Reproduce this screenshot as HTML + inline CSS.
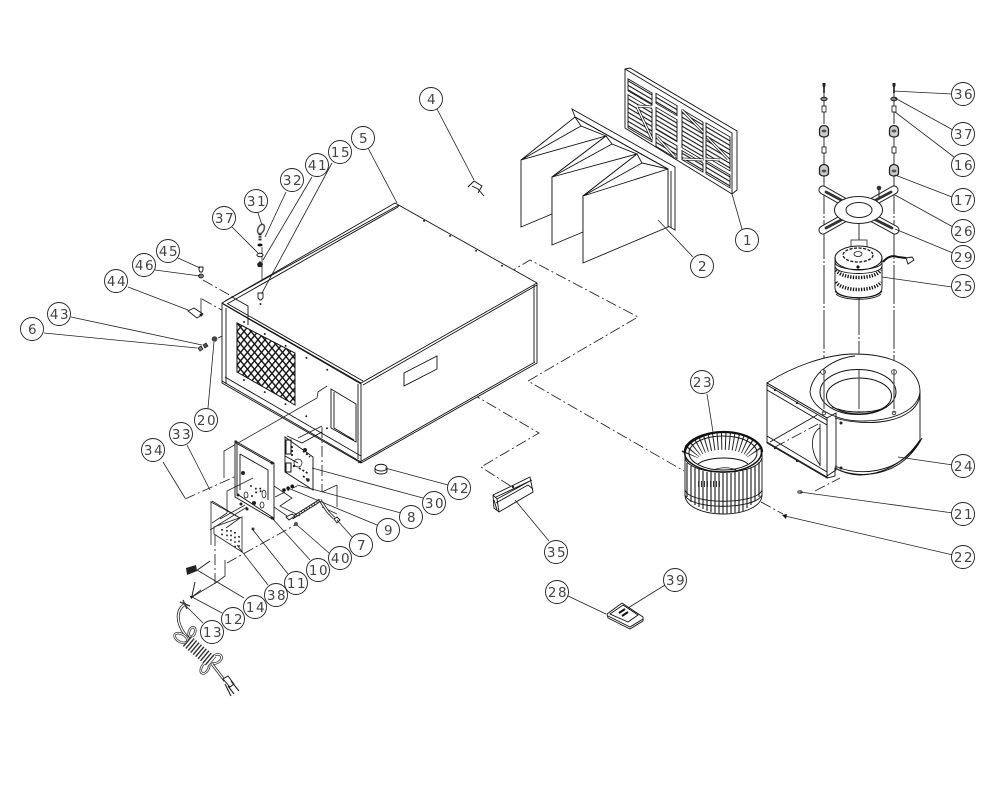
<!DOCTYPE html>
<html><head><meta charset="utf-8"><style>
html,body{margin:0;padding:0;background:#fff;width:1000px;height:789px;overflow:hidden}
svg{display:block}
text{font-family:"DejaVu Sans","Liberation Sans",sans-serif;font-size:13.5px;fill:#444;text-anchor:middle;letter-spacing:1.5px}
.c circle{fill:#fff;stroke:#222;stroke-width:.9}
.l{stroke:#222;stroke-width:.8;fill:none}
.d{stroke:#222;stroke-width:.85;fill:none;stroke-dasharray:11 3 2 3}
.v{stroke:#555;stroke-width:1.2;fill:none;stroke-dasharray:39 2 2 2}
.p{stroke:#111;stroke-width:.9;fill:#fff}
.n{stroke:#111;stroke-width:.9;fill:none}
.h{fill:#222;stroke:none}
</style></head><body>
<svg width="1000" height="789" viewBox="0 0 1000 789" xmlns="http://www.w3.org/2000/svg">
<defs>
<pattern id="mesh" width="7" height="8.4" patternUnits="userSpaceOnUse" patternTransform="translate(237 323)">
<rect width="7" height="8.4" fill="#fff"/>
<path d="M0 0L7 8.4M7 0L0 8.4" stroke="#111" stroke-width="1.35"/>
</pattern>
<pattern id="sl" width="20" height="4.5" patternUnits="userSpaceOnUse">
<rect width="20" height="4.5" fill="#fff"/><path d="M0 1H20" stroke="#111" stroke-width="1.2"/>
</pattern>
<g id="st">
<path d="M822.5 83h3v3l-.7 1v6h-1.600v-6l-.7-1z" fill="#222"/>
<ellipse cx="824" cy="99" rx="3.200" ry="1.800" fill="#888" stroke="#111" stroke-width=".8"/>
<rect x="822" y="106" width="4" height="6" fill="#fff" stroke="#111" stroke-width=".8"/>
<path d="M819.5 130c0-6 9-6 9 0v4c0 4-9 4-9 0z" fill="#ccc" stroke="#222" stroke-width="1.300"/><ellipse cx="824" cy="131" rx="2.400" ry="1.500" fill="#555"/>
<rect x="822" y="147" width="4" height="6" fill="#fff" stroke="#111" stroke-width=".8"/>
<path d="M819.5 169c0-6 9-6 9 0v4c0 4-9 4-9 0z" fill="#ccc" stroke="#222" stroke-width="1.300"/><ellipse cx="824" cy="171" rx="2.400" ry="1.500" fill="#555"/>
</g>
</defs>

<path class="d" d="M421 364L539 433L481 467L512 487"/>
<path class="d" d="M490 284L530 260L638 317L528 381L684 471"/>
<path class="d" d="M761 502L783 514"/>
<path class="v" d="M824 85V370M894 85V370M859 210V245M859 296V370"/>
<path class="d" d="M815 491L840 478"/>
<path class="d" d="M203 280L233 297M202 299L243 322M218 338L240 327"/>
<path class="l" d="M201 298V313"/>
<path class="l" d="M262 247V298"/>

<!-- cabinet -->
<path class="p" d="M222 303L395 203L537 283V363L361 463L222 383Z"/>
<path class="n" d="M222 303L361 383L537 283M361 383V463"/>
<path class="n" d="M225 301L397 206M227 304L398 207"/>
<path class="n" stroke-width="1.2" d="M223 304L361 384M228 304L363 381M363 385L537 285"/>
<path class="n" d="M226 308V384M225 377L361 456M358 384V459"/>
<path class="n" stroke-width="1.3" d="M222 381L361 462"/>
<path class="n" d="M534 285V362M358 463L535 362"/>
<path d="M237 323L295 353V405L237 372Z" fill="url(#mesh)" stroke="#111"/>
<path class="n" d="M404 373L437 356V369L404 386Z"/>
<path class="n" d="M331 389L356 404V442L331 428ZM334 392V428L354 440"/>
<path class="l" d="M224 478V451L317 398L318 392L327 386"/>
<path class="n" d="M232 297L248 306V325"/>
<path fill="none" stroke="#222" stroke-width="2" stroke-linecap="round" stroke-dasharray="0 30" d="M398 206L520 276"/>
<path fill="none" stroke="#222" stroke-width="2" stroke-linecap="round" stroke-dasharray="0 24" d="M244 322L345 380M244 380L330 430"/>

<!-- filter 1 -->
<path class="p" d="M625 69L630 68L737 131V190L732 194L625 128Z"/>
<path class="n" d="M625 69L732 133V194"/>
<g transform="matrix(1 .59 0 1 625 69)" fill="url(#sl)" stroke="#111" stroke-width=".9">
<rect x="3" y="8" width="24" height="12"/><rect x="3" y="24" width="24" height="33"/>
<rect x="31" y="6" width="21" height="10"/><rect x="31" y="20" width="21" height="22"/><rect x="31" y="46" width="21" height="13"/>
<rect x="57" y="7" width="21" height="38"/><rect x="57" y="48" width="21" height="9"/>
<rect x="81" y="6" width="24" height="34"/><rect x="81" y="44" width="24" height="13"/>
</g>
<path stroke="#111" stroke-width="2.8" fill="none" d="M637 107L652 139M657 137L675 157M682 110L703 132M707 137L728 159M683 159L703 160M705 159L720 160M637 106L652 107"/>
<path stroke="#fff" stroke-width="1.4" fill="none" d="M637 107L652 139M657 137L675 157M682 110L703 132M707 137L728 159M683 159L703 160M705 159L720 160M637 106L652 107"/>

<!-- filter 2 -->
<path class="p" d="M572 109L675 167V230L668 226V169L575 117Z"/>
<path class="n" d="M575 117L668 169M671 171V228"/>
<path class="p" d="M521 160L575 117L581 126L606 136Z"/>
<path class="p" d="M521 160L606 136L552 177V214L521 227Z"/>
<path class="n" d="M521 160L581 126"/>
<path class="p" d="M552 177L606 136L612 144L637 154L583 196V232L552 245Z"/>
<path class="n" d="M552 177L612 144M552 177L637 154"/>
<path class="p" d="M583 196L637 154L642 163L668 169V227L583 263Z"/>
<path class="n" d="M583 196L642 163M583 196L668 169"/>

<!-- clip 4 -->
<path class="n" stroke-width="1.3" d="M468 187L474 181L482 186L478 193M472 186L478 189L484 196"/>

<!-- hardware 31 32 37 41 15 -->
<ellipse cx="261" cy="229" rx="3" ry="5" fill="#fff" stroke="#555" stroke-width="1.6" transform="rotate(25 261 229)"/>
<path stroke="#111" stroke-width="3" stroke-dasharray="1 .7" d="M260 234V241"/>
<ellipse cx="260" cy="245" rx="2.600" ry="1.500" fill="#111"/>
<ellipse cx="260" cy="255" rx="3" ry="1.700" fill="#fff" stroke="#111" stroke-width="1"/>
<path d="M257 264L260 261L263 264L262 267H258Z" fill="#222"/>
<path class="p" d="M258 293h5v5l-2 2h-1l-2-2z"/><circle class="h" cx="260.5" cy="304" r="1"/>
<!-- 45 46 44 -->
<path class="p" d="M199 267h4v3l-1 2h-2l-1-2z"/><ellipse cx="201" cy="276" rx="2.500" ry="2" fill="#777" stroke="#111" stroke-width=".7"/>
<path class="p" d="M188 311L194 308L203 314L197 318Z"/><circle class="h" cx="201" cy="315" r="1.500"/>
<!-- 43 6 20 -->
<path d="M198 348l3-2 2 3-3 2z" fill="#777" stroke="#111" stroke-width=".7"/><path d="M203 345l3-2 2 3-3 2z" fill="#555" stroke="#111" stroke-width=".7"/>
<circle cx="214.5" cy="339" r="2.800" fill="#444"/>

<!-- control panel 10 -->
<path class="d" d="M185 499L243 473"/>
<path class="d" d="M322 427V492"/>
<path class="l" d="M298 438L322 426M337 485V507M322 492L337 485M322 507L337 514"/>
<path class="p" d="M235 441L274 463V520L235 497Z"/>
<path class="n" d="M236 443L273 464M237 444V494L272 517M240 454L268 470V500M240 454V490"/>
<g class="h"><circle cx="236" cy="442" r="1.500"/><circle cx="272" cy="463" r="1.500"/><circle cx="272" cy="518" r="1.500"/><circle cx="238" cy="495" r="1.500"/><circle cx="243" cy="473" r="2"/><circle cx="254" cy="503" r="2"/><circle cx="241" cy="504" r="1.500"/><circle cx="247" cy="509" r="1.500"/></g>
<path fill="none" stroke="#222" stroke-width="2" stroke-linecap="round" stroke-dasharray="0 5.500" d="M251 486L262 492M252 496L262 487"/>
<ellipse cx="264" cy="494" rx="2" ry="4" fill="none" stroke="#111" stroke-width=".7"/><ellipse cx="246" cy="495" rx="2" ry="3" fill="none" stroke="#111" stroke-width=".7"/><ellipse cx="262" cy="505" rx="2" ry="3" fill="none" stroke="#111" stroke-width=".7"/>
<path class="l" d="M227 513V491L253 478M227 513L212 523M245 505L220 519M212 501L240 518L226 528M247 507L210 530"/>
<path class="d" d="M275 497L297 486"/>
<path class="l" d="M274 486L292 498L280 506L300 516M274 507L287 516"/>

<!-- circuit board 30 -->
<path class="p" d="M285 437L313 457V490L285 472Z"/>
<path class="n" d="M287 436L302 443L322 432M285 456L298 463"/>
<rect x="286" y="440" width="5" height="14" fill="none" stroke="#111" stroke-width="1"/><rect x="286" y="463" width="5" height="9" fill="none" stroke="#111" stroke-width="1"/>
<path stroke="#111" stroke-width="1.600" stroke-dasharray="2 2" fill="none" d="M292 446V456M303 451L310 457M299 468L309 474M303 476L308 480"/>
<circle cx="298" cy="463" r="4" fill="none" stroke="#111" stroke-width=".7"/>
<circle cx="305" cy="450" r="2" fill="#222"/><circle cx="308" cy="480" r="1.700" fill="#222"/><circle cx="294" cy="466" r="1.200" fill="#222"/>
<path fill="none" stroke="#111" stroke-width="3.600" stroke-linecap="round" stroke-dasharray="0 4.500" d="M284 490L293 486"/>
<!-- harness 7 40 -->
<path stroke="#222" stroke-width="3.200" fill="none" d="M292 518L316 503L320 500"/>
<path stroke="#fff" stroke-width="1.200" fill="none" stroke-dasharray="2 1" d="M292 518L316 503L320 500"/>
<path stroke="#222" stroke-width="3" fill="none" d="M320 500L328 512L334 518"/>
<path stroke="#fff" stroke-width="1.300" fill="none" d="M320 500L328 512L334 518"/>
<path class="p" d="M334 519l3-2 3 3-3 3z"/><path class="p" d="M286 517l6-3 3 2-6 4z"/>
<circle cx="296" cy="524" r="2" fill="#555"/>
<!-- panel 38, 11 -->
<path class="l" d="M211 501V545M211 502L240 518M214 527L242 517V552L214 534Z"/>
<path class="d" d="M215 535V585"/>
<path stroke="#222" stroke-width="1.700" stroke-dasharray="1.600 3" fill="none" d="M222 529V537M227 530V540M231 530V544M235 532V548M239 536V550"/>
<circle cx="253" cy="529" r="1.500" fill="#333"/>
<path class="d" d="M227 563L295 525"/>
<!-- 14 12 -->
<path class="l" d="M225 560V576L217 582M192 597L217 582"/>
<path class="n" d="M196 571L210 561"/>
<path d="M186 568l10-3 1 6-10 4z" fill="#222"/>
<path stroke="#222" stroke-width="1" fill="none" d="M192 596L195 582M192 597L201 590"/>
<path d="M190 596h4l-3 3z" fill="#111"/>
<!-- cord -->
<g fill="none">
<path stroke="#333" stroke-width="3" d="M186 604C176 608 174 624 190 640"/>
<path stroke="#fff" stroke-width="1.300" d="M186 604C176 608 174 624 190 640"/>
<path stroke="#333" stroke-width="1.300" d="M180 602L190 606M183 600L187 609"/>
<g stroke="#333" stroke-width="2.500">
<ellipse cx="181" cy="638" rx="7" ry="4" transform="rotate(30 181 638)"/>
<ellipse cx="192" cy="632" rx="3" ry="5" transform="rotate(20 192 632)"/>
<ellipse cx="216" cy="659" rx="6" ry="4" transform="rotate(-30 216 659)"/>
<ellipse cx="205" cy="668" rx="3.500" ry="6" transform="rotate(30 205 668)"/>
</g>
<g stroke="#fff" stroke-width="1">
<ellipse cx="181" cy="638" rx="7" ry="4" transform="rotate(30 181 638)"/>
<ellipse cx="192" cy="632" rx="3" ry="5" transform="rotate(20 192 632)"/>
<ellipse cx="216" cy="659" rx="6" ry="4" transform="rotate(-30 216 659)"/>
<ellipse cx="205" cy="668" rx="3.500" ry="6" transform="rotate(30 205 668)"/>
</g>
<path stroke="#fff" stroke-width="13" d="M187 641L212 662"/>
<path stroke="#333" stroke-width="13" stroke-dasharray="1.400 1.800" d="M187 641L212 662"/>
<path stroke="#333" stroke-width="2.800" d="M212 664L225 681"/>
<path stroke="#fff" stroke-width="1.100" d="M212 664L225 681"/>
</g>
<path class="p" d="M223 679l5-3 6 8-4 3z"/><path stroke="#222" stroke-width="1.100" d="M231 681L239 691M228 686L234 694M225 684L231 696"/>

<!-- 42 -->
<path class="p" d="M375 468C375 463 387 463 387 468V471C387 475 375 475 375 471Z"/>
<path class="n" d="M375 468C375 472 387 472 387 468"/>
<!-- 35 -->
<path class="p" d="M493 495L530 477L533 492L499 512L494 508Z"/>
<path class="n" d="M493 495L497 499L530 481M497 499L499 512M496 497L532 480M496 503L528 485L533 489M494 500L497 510"/>
<circle class="h" cx="513" cy="487" r="1.200"/>
<!-- 28 39 -->
<path class="p" d="M607 614L622 603L643 617V621L630 629L608 618Z"/>
<path class="n" d="M608 616L630 627L643 619M610 614L623 605L638 615L628 622Z"/>
<path stroke="#111" stroke-width="2" d="M619 613L625 609M622 616L628 612"/>

<!-- fan hardware stacks -->
<use href="#st"/><use href="#st" x="70"/>

<!-- mount plate -->
<g fill="none" stroke-linecap="round">
<path stroke="#222" stroke-width="9" d="M823 190L846 203M894 190L871 203M823 230L846 217M895 230L871 217"/>
<path stroke="#fff" stroke-width="7" d="M823 190L846 203M894 190L871 203M823 230L846 217M895 230L871 217"/>
<path stroke="#333" stroke-width="2.800" d="M826 192L843 201M891 192L874 201M826 228L843 219M892 228L874 219"/>
</g>
<ellipse cx="858.5" cy="210" rx="24" ry="13.500" fill="#fff" stroke="#222"/>
<ellipse cx="859" cy="210" rx="13" ry="7.500" fill="#fff" stroke="#222"/>
<circle cx="879" cy="188" r="2.300" fill="#333"/><path stroke="#222" d="M879 190V197"/>

<!-- motor -->
<path class="p" d="M835 258C835 250 882 250 882 258V288C882 301 835 301 835 288Z"/>
<rect x="851" y="240" width="16" height="13" fill="#fff" stroke="#222" stroke-width=".8"/>
<ellipse cx="858.5" cy="258" rx="23.500" ry="12" fill="#fff" stroke="#111"/>
<ellipse cx="858" cy="255" rx="15" ry="7" fill="#fff" stroke="#111" stroke-width="1.300" stroke-dasharray="3 1.500"/>
<ellipse cx="858" cy="254" rx="4" ry="2.500" fill="#fff" stroke="#111" stroke-width=".8"/>
<circle cx="858" cy="267" r="1.600" fill="#111"/>
<path class="n" d="M835 262C835 272 882 272 882 262M835 266C835 276 882 276 882 266"/>
<path d="M836 270C842 280 875 280 881 270" fill="none" stroke="#111" stroke-width="3.500" stroke-dasharray="1.300 1.400"/>
<path d="M836 282C842 292 875 292 881 282" fill="none" stroke="#111" stroke-width="3.500" stroke-dasharray="1.300 1.400"/>
<path class="n" d="M835 291C839 300 878 300 882 291M836 294C842 301 875 301 881 294"/>
<path fill="none" stroke="#111" stroke-width="2" d="M883 262C888 256 893 255 898 257L906 258"/>
<path class="p" d="M906 258l6-1 2 3-6 4z"/>

<!-- blower housing -->
<path class="p" d="M767 383C790 368 825 354 855 354C895 354 920 370 920 392V440C905 462 885 474 860 475C850 475 842 472 835 468V476L827 478V418Z"/>
<path class="n" d="M810 392C812 410 840 422 865 421C895 420 918 410 920 392M810 392C812 372 835 358 855 356"/>
<path class="n" d="M835 418C870 428 915 422 920 396"/>
<path class="n" d="M835 466C855 476 900 476 920 440M835 468C855 479 900 480 922 438"/>
<ellipse cx="858" cy="392" rx="38" ry="22.500" fill="#fff" stroke="#111"/>
<ellipse cx="859" cy="396" rx="32.500" ry="18" fill="#fff" stroke="#111"/>
<path class="n" d="M832 407C848 414 870 414 887 407M838 409C850 413 868 413 882 409"/>
<g fill="#fff" stroke="#222" stroke-width=".8"><circle cx="823" cy="372" r="2.400"/><circle cx="894" cy="372" r="2.400"/><circle cx="824" cy="413" r="1.800"/><circle cx="894" cy="413" r="1.800"/></g>
<path class="v" d="M824 370V413M859 370V412M894 370V413"/>
<!-- outlet -->
<path class="p" d="M767 383L827 418V478L767 443Z"/>
<path class="n" d="M767 385L827 420M767 390L827 425M767 436L827 472M767 442L827 477M827 418L836 413V470L827 476"/>
<path class="n" d="M820 424V466"/>
<path d="M820 428C812 432 808 448 820 465Z" fill="#fff" stroke="#111" stroke-width=".8"/>
<path class="n" d="M770 442L817 415"/>
<path class="d" d="M775 447L820 423"/>
<g class="h"><circle cx="775" cy="390" r="1.200"/><circle cx="797" cy="403" r="1.200"/><circle cx="775" cy="448" r="1.200"/><circle cx="797" cy="461" r="1.200"/><circle cx="841" cy="423" r="1.500"/><circle cx="841" cy="468" r="1.500"/></g>

<!-- wheel 23 -->
<path class="p" d="M685 452C685 442 705 432 723 432C745 432 762 442 762 452V495C762 506 745 514 723 514C702 514 685 506 685 495Z"/>
<path d="M690 455C697 436 749 436 756 455" fill="none" stroke="#222" stroke-width="18" stroke-dasharray="1 3"/>
<ellipse cx="723" cy="452" rx="38.500" ry="20" fill="none" stroke="#111" stroke-width="1.500"/>
<ellipse cx="723" cy="453" rx="34" ry="17" fill="none" stroke="#111"/>
<path d="M685 452C685 442 705 432 723 432C745 432 762 442 762 452" fill="none" stroke="#111" stroke-width="2.200"/>
<path d="M698 464C708 456 740 456 748 464" fill="#fff" stroke="#111" stroke-width=".9"/>
<path d="M714 470C720 467 730 467 736 470" fill="none" stroke="#111" stroke-width=".8"/>
<path stroke="#333" stroke-width="1.250" d="M687 463V497M691 466V502M695 468V505M699 469V507M703 471V509M707 472V511M711 472V512M715 473V513M719 473V514M723 473V514M727 473V514M731 473V514M735 472V513M739 472V512M743 471V511M747 469V508M751 468V505M755 466V501M759 462V497"/>
<path class="n" stroke-width="1.400" d="M685 458C690 477 757 477 762 458M685 490C690 505 757 505 762 490M685 495C690 510 755 510 762 495"/>
<path d="M698 484H720" stroke="#333" stroke-width="6" stroke-dasharray="1 2"/>
<!-- 21 22 -->
<ellipse cx="800" cy="492" rx="2.300" ry="1.300" fill="#999" stroke="#111" stroke-width=".7"/>
<path d="M782 515L787 514L786 519Z" fill="#111"/>

<!-- leaders -->
<path class="l" d="M732 194L742 229M658 220L693 257M437 109L474 180M397 203L368 148M332 163L262 293M312 177L263 260M286 192L265 237M258 213L262 225M232 227L258 253M178 258L200 268M155 270L200 276M128 287L188 310M71 317L202 345M44 333L197 348M208 408L214 342M163 462L185 498M187 445L210 490M385 468L448 485M312 468L423 498M297 485L401 513M288 488L377 525M337 520L353 538M297 525L329 553M272 518L310 560M253 530L288 574M237 545L268 585M197 570L244 598M192 597L222 613M185 605L203 623M515 500L549 541M568 596L606 614M665 585L628 608M893 91L952 94M895 98L953 130M895 112L954 157M895 175L952 197M895 195L953 227M895 229L953 253M882 277L952 287M707 394L713 432M898 457L953 465M800 492L953 513M785 516L953 555"/>

<!-- labels -->
<g class="c">
<circle cx="747" cy="240" r="11.5"/><text x="748" y="245">1</text>
<circle cx="702" cy="266" r="11.5"/><text x="703" y="271">2</text>
<circle cx="431" cy="99" r="11.5"/><text x="432" y="104">4</text>
<circle cx="363" cy="138" r="11.5"/><text x="364" y="143">5</text>
<circle cx="340" cy="152" r="11.5"/><text x="341" y="157">15</text>
<circle cx="317" cy="165" r="11.5"/><text x="318" y="170">41</text>
<circle cx="292" cy="180" r="11.5"/><text x="293" y="185">32</text>
<circle cx="256" cy="201" r="11.5"/><text x="257" y="206">31</text>
<circle cx="224" cy="218" r="11.5"/><text x="225" y="223">37</text>
<circle cx="168" cy="251" r="11.5"/><text x="169" y="256">45</text>
<circle cx="144" cy="265" r="11.5"/><text x="145" y="270">46</text>
<circle cx="116" cy="281" r="11.5"/><text x="117" y="286">44</text>
<circle cx="59" cy="314" r="11.5"/><text x="60" y="319">43</text>
<circle cx="32" cy="329" r="11.5"/><text x="33" y="334">6</text>
<circle cx="206" cy="420" r="11.5"/><text x="207" y="425">20</text>
<circle cx="153" cy="450" r="11.5"/><text x="154" y="455">34</text>
<circle cx="181" cy="434" r="11.5"/><text x="182" y="439">33</text>
<circle cx="459" cy="488" r="11.5"/><text x="460" y="493">42</text>
<circle cx="434" cy="503" r="11.5"/><text x="435" y="508">30</text>
<circle cx="411" cy="517" r="11.5"/><text x="412" y="522">8</text>
<circle cx="388" cy="530" r="11.5"/><text x="389" y="535">9</text>
<circle cx="361" cy="545" r="11.5"/><text x="362" y="550">7</text>
<circle cx="340" cy="558" r="11.5"/><text x="341" y="563">40</text>
<circle cx="318" cy="570" r="11.5"/><text x="319" y="575">10</text>
<circle cx="296" cy="583" r="11.5"/><text x="297" y="588">11</text>
<circle cx="276" cy="595" r="11.5"/><text x="277" y="600">38</text>
<circle cx="255" cy="607" r="11.5"/><text x="256" y="612">14</text>
<circle cx="233" cy="619" r="11.5"/><text x="234" y="624">12</text>
<circle cx="212" cy="632" r="11.5"/><text x="213" y="637">13</text>
<circle cx="556" cy="552" r="11.5"/><text x="557" y="557">35</text>
<circle cx="557" cy="592" r="11.5"/><text x="558" y="597">28</text>
<circle cx="675" cy="580" r="11.5"/><text x="676" y="585">39</text>
<circle cx="963" cy="94" r="11.5"/><text x="964" y="99">36</text>
<circle cx="963" cy="134" r="11.5"/><text x="964" y="139">37</text>
<circle cx="963" cy="165" r="11.5"/><text x="964" y="170">16</text>
<circle cx="963" cy="200" r="11.5"/><text x="964" y="205">17</text>
<circle cx="963" cy="231" r="11.5"/><text x="964" y="236">26</text>
<circle cx="963" cy="257" r="11.5"/><text x="964" y="262">29</text>
<circle cx="963" cy="286" r="11.5"/><text x="964" y="291">25</text>
<circle cx="702" cy="382" r="11.5"/><text x="703" y="387">23</text>
<circle cx="963" cy="466" r="11.5"/><text x="964" y="471">24</text>
<circle cx="963" cy="514" r="11.5"/><text x="964" y="519">21</text>
<circle cx="963" cy="557" r="11.5"/><text x="964" y="562">22</text>
</g>
</svg>
</body></html>
